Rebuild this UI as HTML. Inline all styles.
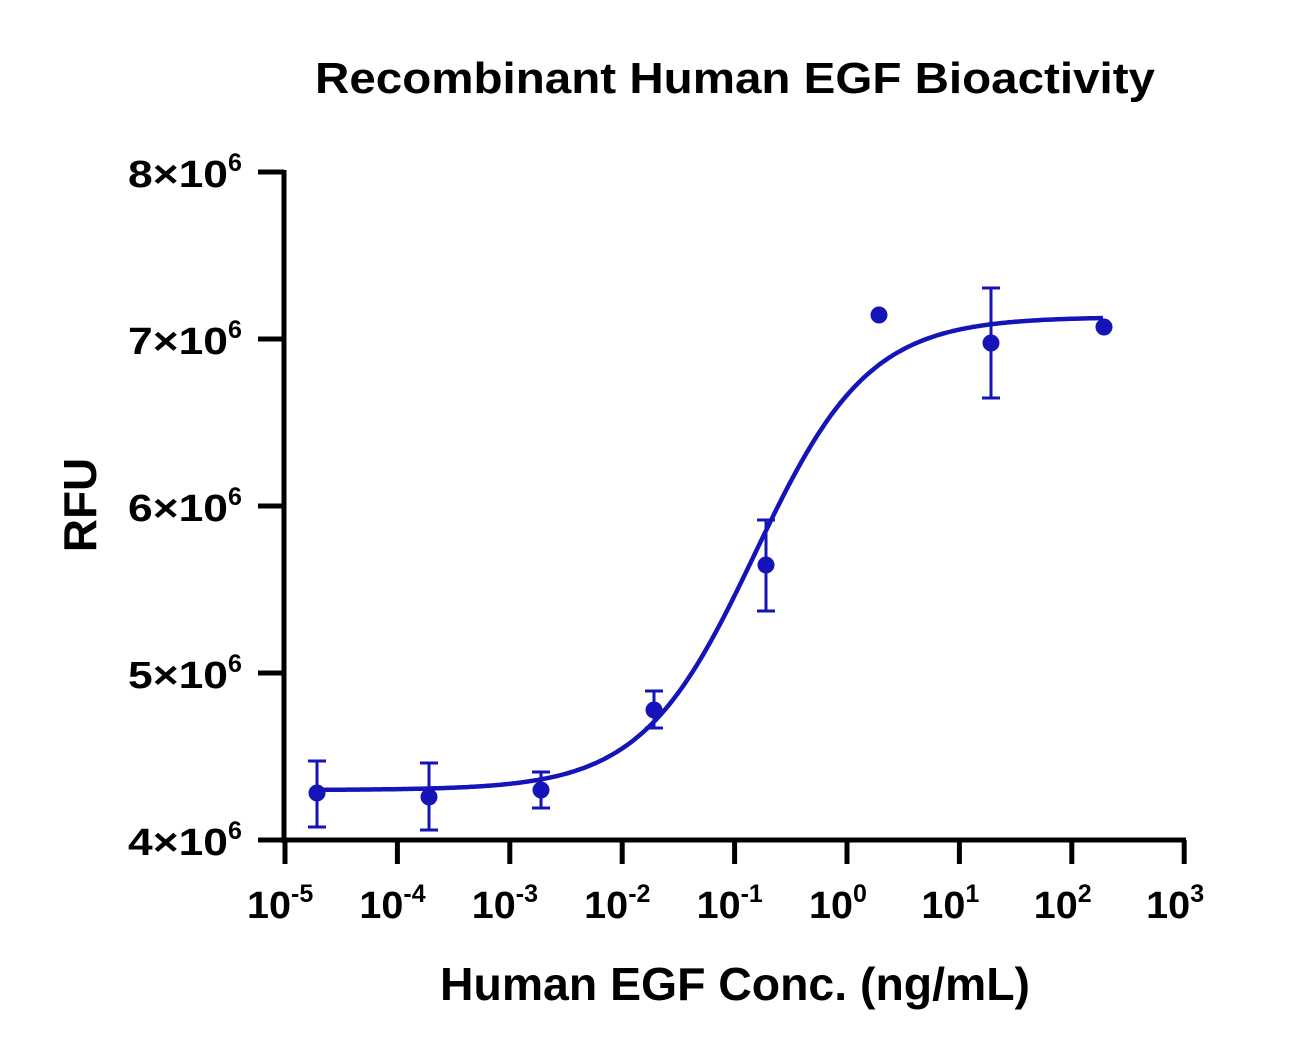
<!DOCTYPE html>
<html><head><style>body{margin:0;background:#fff}text{font-family:"Liberation Sans",sans-serif;font-weight:bold;fill:#000}</style></head>
<body>
<svg width="1315" height="1054" xmlns="http://www.w3.org/2000/svg">
<text x="315" y="93" font-size="44" textLength="840" lengthAdjust="spacingAndGlyphs">Recombinant Human EGF Bioactivity</text>
<g stroke="#000" stroke-width="5" fill="none">
<line x1="284" y1="170" x2="284" y2="843"/>
<line x1="258" y1="840" x2="1186" y2="840"/>
<line x1="258" y1="172" x2="284" y2="172"/>
<line x1="258" y1="339" x2="284" y2="339"/>
<line x1="258" y1="506" x2="284" y2="506"/>
<line x1="258" y1="673" x2="284" y2="673"/>
<g id="xt"></g>
</g>
<g id="yl" font-size="38"></g>
<g id="xl" font-size="38"></g>
<text x="440" y="1000" font-size="46" textLength="590" lengthAdjust="spacingAndGlyphs">Human EGF Conc. (ng/mL)</text>
<text transform="translate(96,505) rotate(-90)" font-size="46" text-anchor="middle">RFU</text>
<g id="d" stroke="#1414b8" fill="#1414b8" stroke-width="3"></g>
</svg>
<script>
var ns="http://www.w3.org/2000/svg";
function el(p,t,a,txt){var e=document.createElementNS(ns,t);for(var k in a)e.setAttribute(k,a[k]);if(txt)e.innerHTML=txt;p.appendChild(e);return e;}
var xt=document.getElementById('xt'),xl=document.getElementById('xl'),yl=document.getElementById('yl');
var ex=['-5','-4','-3','-2','-1','0','1','2','3'];
for(var i=0;i<9;i++){var x=285+i*112.4;el(xt,'line',{x1:x,y1:840,x2:x,y2:864});
el(xl,'text',{x:x-38,y:918},'<tspan textLength="44" lengthAdjust="spacingAndGlyphs">10</tspan><tspan dy="-16" font-size="25">'+ex[i]+'</tspan>');}
[8,7,6,5,4].forEach(function(v,j){var y=172+j*167;
el(yl,'text',{x:128,y:y+15},'<tspan textLength="100" lengthAdjust="spacingAndGlyphs">'+v+'×10</tspan><tspan dy="-16" font-size="25">6</tspan>');});
var d=document.getElementById('d');
var pts='';for(var x=317;x<=1104;x+=2){var f=1/(1+Math.pow(10,(755-x)/112.4*0.86));pts+=(x==317?'M':'L')+x+','+(790-473*f).toFixed(1);}
el(d,'path',{d:pts,fill:'none','stroke-width':4.5});
var P=[[317,793,761,827],[429,797,763,830],[541,790,772,808],[654,710,691,728],[766,565,520,611],[879,315],[991,343,288,398],[1104,327]];
P.forEach(function(p){el(d,'circle',{cx:p[0],cy:p[1],r:8.5,stroke:'none'});
if(p[2]){el(d,'line',{x1:p[0],y1:p[2],x2:p[0],y2:p[3]});el(d,'line',{x1:p[0]-9,y1:p[2],x2:p[0]+9,y2:p[2]});el(d,'line',{x1:p[0]-9,y1:p[3],x2:p[0]+9,y2:p[3]});}});
</script>
</body></html>
